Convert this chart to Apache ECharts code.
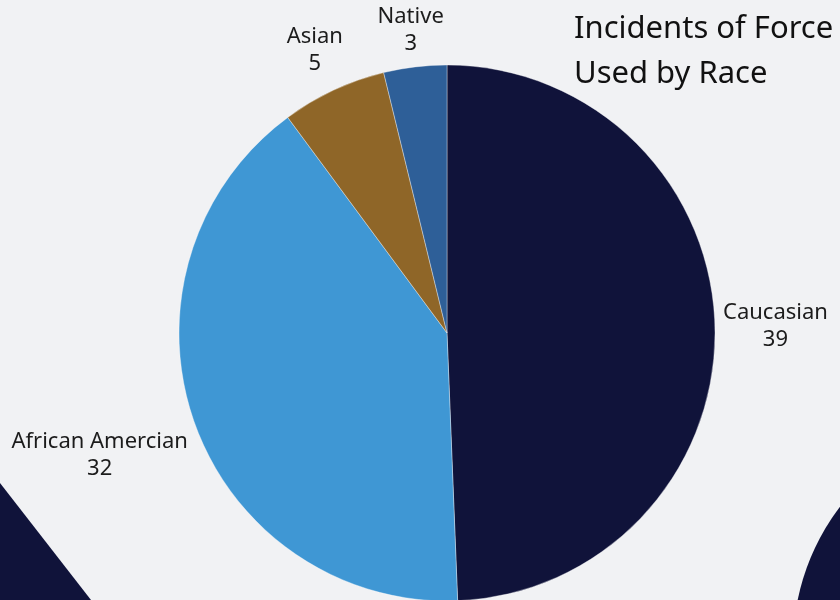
<!DOCTYPE html>
<html>
<head>
<meta charset="utf-8">
<script src="https://cdn.jsdelivr.net/npm/echarts@6/dist/echarts.min.js"></script>
<style>
  html, body { margin: 0; padding: 0; background: #f1f2f4; }
  #chart { width: 840px; height: 600px; }
</style>
</head>
<body>
<div id="chart"></div>
<script>
const categories = ['Caucasian', 'African Amercian', 'Asian', 'Native'];
const values = [39, 32, 5, 3];
const colors = ['#10133a', '#3f97d4', '#8f6628', '#2e5f98'];
const titleText = 'Incidents of Force\nUsed by Race';

const CX = 447, CY = 333, R = 268, GAP = 8;
const total = values.reduce((a, b) => a + b, 0);

function midDir(i) {
  let cum = 0;
  for (let k = 0; k < i; k++) cum += values[k];
  const ang = (90 - (cum + values[i] / 2) / total * 360) * Math.PI / 180;
  return [Math.cos(ang), -Math.sin(ang)];
}

const chart = echarts.init(document.getElementById('chart'), null, { renderer: 'canvas' });
chart.setOption({
  backgroundColor: '#f1f2f4',
  animation: false,
  title: {
    text: titleText,
    left: 574,
    top: 7,
    padding: 0,
    textStyle: {
      fontFamily: 'Noto Sans',
      fontSize: 31,
      fontWeight: 'normal',
      lineHeight: 45,
      color: '#111111'
    }
  },
  graphic: [
    {
      type: 'polygon', z: 0, silent: true,
      shape: { points: [[0, 483], [91, 600], [0, 600]] },
      style: { fill: '#10133a' }
    },
    {
      type: 'circle', z: 0, silent: true,
      shape: { cx: 1023, cy: 646, r: 230 },
      style: { fill: '#10133a' }
    }
  ],
  series: [{
    type: 'pie',
    center: [CX, CY],
    radius: [0, R],
    startAngle: 90,
    clockwise: true,
    z: 2,
    data: categories.map((c, i) => ({ name: c, value: values[i], itemStyle: { color: colors[i] } })),
    itemStyle: { borderColor: 'rgba(255,255,255,0.6)', borderWidth: 0.6 },
    label: {
      show: true,
      position: 'outside',
      formatter: '{b}\n{c}',
      align: 'center',
      overflow: 'none',
      edgeDistance: 0,
      fontFamily: 'Noto Sans',
      fontSize: 22,
      lineHeight: 27,
      color: '#1c1c1c'
    },
    labelLine: { show: false },
    emphasis: { disabled: true },
    labelLayout: function (params) {
      const d = midDir(params.dataIndex);
      const w = params.labelRect.width, h = params.labelRect.height;
      let lo = 0, hi = 600;
      for (let it = 0; it < 60; it++) {
        const t = (lo + hi) / 2;
        const dx = Math.max(Math.abs(t * d[0]) - w / 2, 0);
        const dy = Math.max(Math.abs(t * d[1]) - h / 2, 0);
        if (Math.hypot(dx, dy) < R + GAP) lo = t; else hi = t;
      }
      const t = (lo + hi) / 2;
      return { x: CX + d[0] * t, y: CY + d[1] * t, align: 'center', verticalAlign: 'middle' };
    }
  }]
});
</script>
</body>
</html>
